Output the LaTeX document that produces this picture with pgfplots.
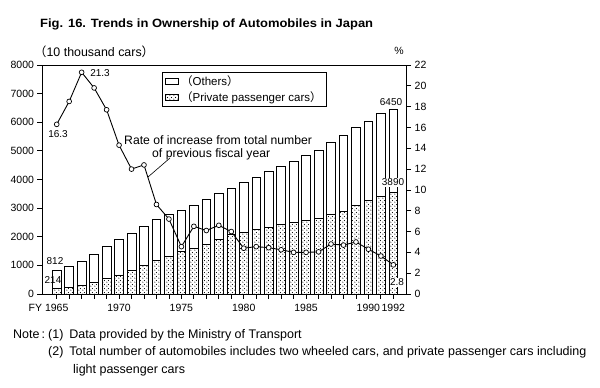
\documentclass[border=0pt]{standalone}
\usepackage{fontspec}
\setmainfont{Liberation Sans}
\newfontfamily\cjk{Noto Sans CJK JP}
\usepackage{pgfplots}
\usepackage{pgfplotstable}
\pgfplotsset{compat=1.18}
\usetikzlibrary{patterns}

\pgfdeclarepatternformonly{bigdots}{\pgfqpoint{0pt}{0pt}}{\pgfqpoint{3.6pt}{3.6pt}}{\pgfqpoint{3.6pt}{3.6pt}}{%
  \pgfpathcircle{\pgfqpoint{0.9pt}{0.9pt}}{0.62pt}%
  \pgfpathcircle{\pgfqpoint{2.7pt}{2.7pt}}{0.62pt}%
  \pgfusepath{fill}}

\pgfplotstableread{
year total priv rate
1965 812 214 16.3
1966 980 240 18.5
1967 1158 285 21.3
1968 1395 409 19.8
1969 1661 550 17.7
1970 1905 667 14.3
1971 2129 810 12.0
1972 2370 985 12.4
1973 2600 1165 8.6
1974 2800 1310 7.2
1975 2915 1485 4.55
1976 3110 1602 6.5
1977 3310 1743 6.1
1978 3500 1895 6.6
1979 3708 2070 6.0
1980 3906 2164 4.4
1981 4082 2246 4.55
1982 4269 2340 4.45
1983 4467 2445 4.25
1984 4643 2503 4.0
1985 4842 2585 4.0
1986 5018 2655 4.05
1987 5287 2796 4.8
1988 5544 2889 4.7
1989 5813 3099 5.0
1990 6047 3263 4.3
1991 6305 3415 3.65
1992 6450 3560 2.8
}\data

\begin{document}
\begin{tikzpicture}[x=1pt,y=1pt]
\useasboundingbox (0,0) rectangle (600,-388);

\begin{axis}[
  at={(42pt,-294pt)}, anchor=south west, scale only axis,
  width=364.7pt, height=229pt,
  xmin=1963.82, xmax=1993.07, ymin=0, ymax=8000,
  xtick={1965,...,1992},
  xticklabels={\llap{FY\ }1965,,,,,1970,,,,,1975,,,,,1980,,,,,1985,,,,,1990,,1992},
  xticklabel style={yshift=-2.5pt},
  ytick={0,1000,...,8000},
  ytick pos=left, xtick pos=bottom,
  tick align=outside, major tick length=4.5pt,
  tick style={black, line width=0.8pt},
  axis line style={line width=0.9pt},
  tick label style={font=\fontsize{10.5}{12}\selectfont, black},
  legend style={at={(0.329,0.969)}, anchor=north west, draw=black, line width=0.9pt,
    font=\fontsize{11.5}{13}\selectfont, inner xsep=3pt, inner ysep=1.5pt, row sep=0pt,
    cells={anchor=west}},
  legend cell align=left,
  legend image code/.code={\draw[#1, line width=0.7pt] (0pt,-3pt) rectangle (13pt,3pt);},
  /pgf/number format/1000 sep={},
  /pgf/number format/assume math mode=true,
]
\addplot[ybar, bar width=8.7pt, bar shift=0pt, fill=white, draw=black, line width=0.7pt]
  table[x=year,y=total]{\data};
\addlegendentry{{\cjk （}Others{\cjk ）}}
\addplot[ybar, bar width=8.7pt, bar shift=0pt, pattern=bigdots, pattern color=black, draw=black, line width=0.7pt]
  table[x=year,y=priv]{\data};
\addlegendentry{{\cjk （}Private passenger cars{\cjk ）}}
\end{axis}

\begin{axis}[
  at={(42pt,-294pt)}, anchor=south west, scale only axis,
  width=364.7pt, height=229pt,
  xmin=1963.82, xmax=1993.07, ymin=0, ymax=22,
  xtick=\empty,
  ytick={0,2,...,22},
  ytick pos=right,
  tick align=outside, major tick length=4.5pt,
  tick style={black, line width=0.8pt},
  axis line style={line width=0.9pt},
  tick label style={font=\fontsize{10.5}{12}\selectfont, black},
  /pgf/number format/assume math mode=true,
  clip=false,
]
\addplot[black, line width=0.9pt, mark=*, mark size=2.4pt, mark options={fill=white, line width=0.7pt}]
  table[x=year,y=rate]{\data};
\end{axis}

% texts
\node[anchor=west, font=\bfseries\fontsize{12}{14}\selectfont, xscale=1.08, inner sep=0pt] at (40,-24) {Fig. 16. Trends in Ownership of Automobiles in Japan};
\node[anchor=west, font=\fontsize{12.4}{14}\selectfont, inner sep=0pt] at (34,-52) {{\cjk （}10 thousand cars{\cjk ）}};
\node[font=\fontsize{10.5}{12}\selectfont, inner sep=0pt] at (399,-51) {\%};

\node[font=\fontsize{10}{11}\selectfont, inner sep=0pt] at (55,-261.5) {812};
\node[font=\fontsize{10}{11}\selectfont, inner sep=0pt] at (53,-280.5) {214};
\node[font=\fontsize{10}{11}\selectfont, inner sep=0pt] at (58,-134.5) {16.3};
\node[font=\fontsize{10}{11}\selectfont, inner sep=0pt] at (100,-73.5) {21.3};
\node[font=\fontsize{10}{11}\selectfont, fill=white, inner sep=0.5pt] at (391,-102.5) {6450};
\node[font=\fontsize{10}{11}\selectfont, fill=white, inner sep=0.5pt] at (393,-182.5) {3890};
\node[font=\fontsize{10}{11}\selectfont, fill=white, inner sep=0.5pt] at (397,-282.5) {2.8};

\node[anchor=west, font=\fontsize{12.2}{13}\selectfont, inner sep=0pt] at (124,-140.5) {Rate of increase from total number};
\node[anchor=west, font=\fontsize{12.2}{13}\selectfont, inner sep=0pt] at (152,-154) {of previous fiscal year};
\draw[line width=0.6pt] (148,-177) -- (170,-158);

\node[anchor=west, font=\fontsize{12.5}{14}\selectfont, inner sep=0pt] at (13,-335) {Note\,:\hspace{3pt}(1)\hspace{6pt}Data provided by the Ministry of Transport};
\node[anchor=west, font=\fontsize{12.5}{14}\selectfont, inner sep=0pt] at (48,-352.7) {(2)\hspace{6pt}Total number of automobiles includes two wheeled cars, and private passenger cars including};
\node[anchor=west, font=\fontsize{12.5}{14}\selectfont, inner sep=0pt] at (73,-370) {light passenger cars};
\end{tikzpicture}
\end{document}
